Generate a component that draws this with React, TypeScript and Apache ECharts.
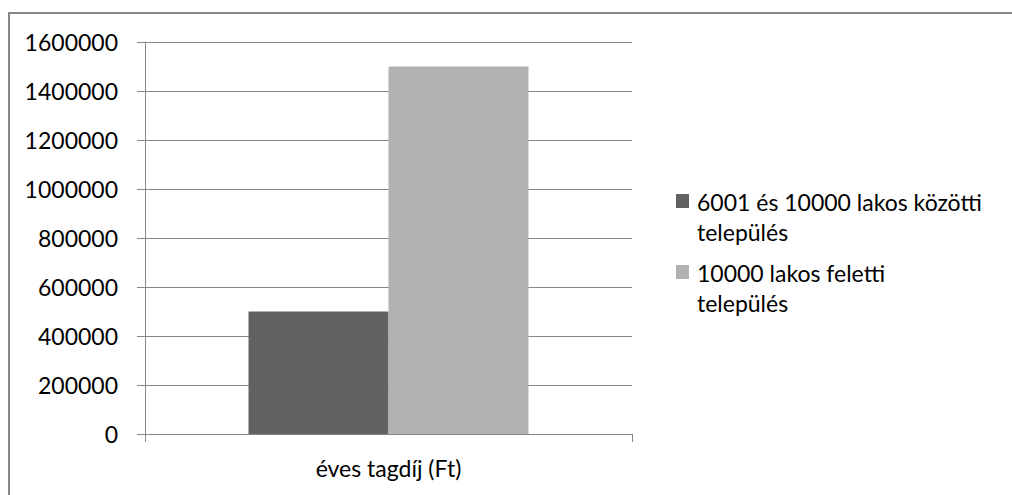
import React, { useEffect, useRef } from "react";
import * as echarts from "echarts";

const categories = ["éves tagdíj (Ft)"];
const seriesNames = ["6001 és 10000 lakos közötti\ntelepülés", "10000 lakos feletti\ntelepülés"];
const seriesValues = [[500000], [1500000]];
const seriesColors = ["#626262", "#b2b2b2"];

const FONT = "Lato";
const FS = 23;

export default function App() {
  const ref = useRef<HTMLDivElement>(null);
  useEffect(() => {
    const chart = echarts.init(ref.current!, undefined, { renderer: "svg" });
    const legendGraphics: any[] = [];
    const legendTops = [202, 273];
    seriesNames.forEach((name, i) => {
      legendGraphics.push({
        type: "rect",
        shape: { x: 676, y: legendTops[i] - 8, width: 13, height: 14 },
        style: { fill: seriesColors[i] },
      });
      legendGraphics.push({
        type: "text",
        x: 697,
        y: legendTops[i] - 15,
        style: {
          text: name,
          fill: "#000",
          font: `${FS}px ${FONT}`,
          lineHeight: 30,
          textVerticalAlign: "top",
        },
      });
    });
    chart.setOption({
      animation: false,
      grid: { left: 145, top: 42, width: 487, height: 392, containLabel: false },
      xAxis: {
        type: "category",
        data: categories,
        axisLine: { lineStyle: { color: "#878787", width: 1 } },
        axisTick: { show: true, length: 8, lineStyle: { color: "#878787" } },
        axisLabel: { color: "#000", fontSize: FS, fontFamily: FONT, margin: 22 },
      },
      yAxis: {
        type: "value",
        min: 0,
        max: 1600000,
        interval: 200000,
        axisLine: { show: true, lineStyle: { color: "#878787", width: 1 } },
        axisTick: { show: true, length: 8, lineStyle: { color: "#878787" } },
        axisLabel: {
          color: "#000",
          fontSize: FS,
          fontFamily: FONT,
          margin: 27,
          formatter: (v: number) => String(v),
        },
        splitLine: { show: true, lineStyle: { color: "#878787", width: 1 } },
      },
      series: seriesNames.map((name, i) => ({
        type: "bar",
        name,
        data: seriesValues[i],
        barWidth: 140,
        barGap: "0%",
        itemStyle: { color: seriesColors[i] },
      })),
      graphic: [
        {
          type: "rect",
          shape: { x: 9, y: 13, width: 1100, height: 600 },
          style: { fill: "none", stroke: "#878787", lineWidth: 2 },
          silent: true,
        },
        ...legendGraphics,
      ],
    });
    return () => chart.dispose();
  }, []);
  return (
    <div
      ref={ref}
      style={{ position: "fixed", left: 0, top: 0, width: 1012, height: 495, background: "#fff" }}
    />
  );
}
